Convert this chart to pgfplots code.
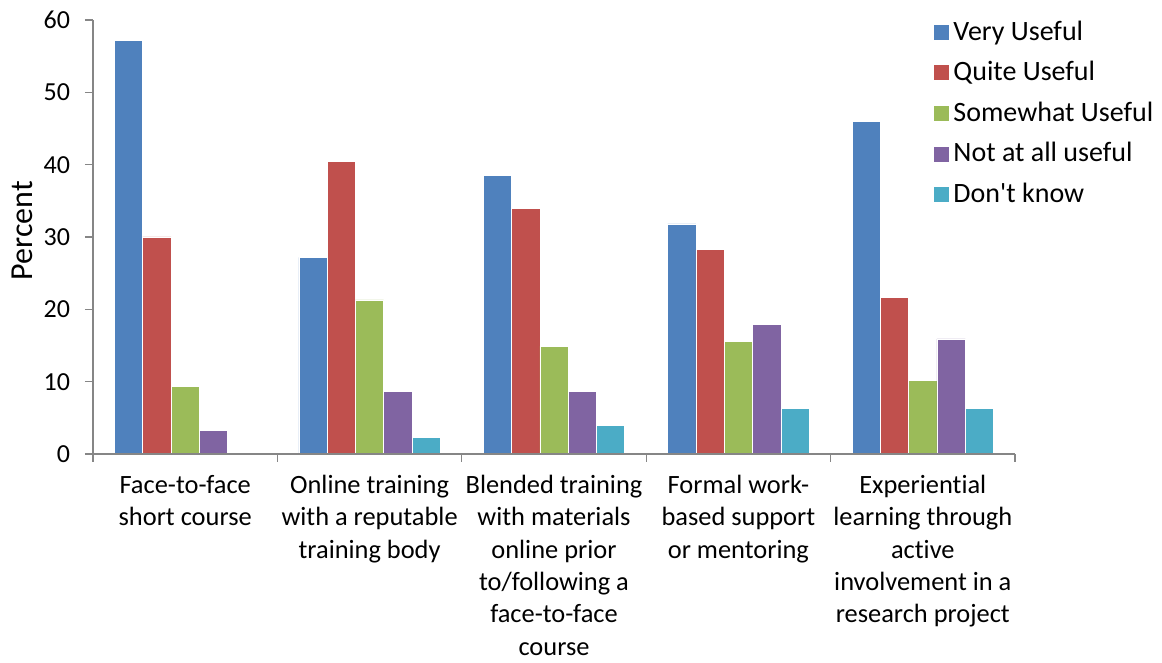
\documentclass[border=0pt]{standalone}
\usepackage{pgfplots}
\pgfplotsset{compat=1.18}
\usepackage{fontspec}
\setmainfont{Carlito}[Ligatures={TeX,NoCommon}]

\definecolor{cVery}{RGB}{79,129,189}
\definecolor{cQuite}{RGB}{192,80,77}
\definecolor{cSome}{RGB}{155,187,89}
\definecolor{cNot}{RGB}{128,100,162}
\definecolor{cDK}{RGB}{75,172,198}
\definecolor{axisgray}{RGB}{134,134,134}

\begin{document}
\fontsize{13}{16.3}\selectfont
\begin{tikzpicture}
\begin{axis}[
  scale only axis,
  width=461pt, height=217pt,
  axis on top,
  ybar=0pt,
  bar width=14.15pt,
  xmin=-0.5, xmax=4.5,
  ymin=0, ymax=60,
  ytick={0,10,...,60},
  xtick={-0.5,0.5,...,4.5},
  xticklabels={},
  extra x ticks={0,1,2,3,4},
  extra x tick labels={
    Face-to-face\\short course,
    Online training\\with a reputable\\training body,
    Blended training\\with materials\\online prior\\to/following a\\face-to-face\\course,
    Formal work-\\based support\\or mentoring,
    Experiential\\learning through\\active\\involvement in a\\research project},
  extra x tick style={major tick length=0pt},
  x tick label style={align=center, anchor=north, yshift=-6pt,
    font=\fontsize{13.2}{16.2}\selectfont},
  y tick label style={font=\fontsize{13}{16.3}\selectfont, xshift=-3pt},
  /pgf/number format/assume math mode=true,
  tick align=outside,
  major tick length=4pt,
  axis x line*=bottom,
  axis y line*=left,
  axis line style={axisgray, line width=0.6pt},
  every tick/.style={axisgray, line width=0.6pt},
  ylabel={Percent},
  ylabel style={font=\fontsize{16}{18}\selectfont,
    at={(axis description cs:-0.077,0.514)}, anchor=center, rotate=0},
  legend style={at={(0.904,1.018)}, anchor=north west, draw=none, fill=none,
    font=\fontsize{14}{16}\selectfont, row sep=4.6pt,
    /tikz/every even column/.append style={column sep=0pt}},
  legend cell align=left,
  legend image code/.code={\fill[#1] (0pt,-4pt) rectangle (8pt,4pt);},
  every axis plot/.append style={draw=white, line width=0.3pt},
]
\addplot[fill=cVery] coordinates {(0,57.2) (1,27.2) (2,38.5) (3,31.8) (4,46.0)};
\addplot[fill=cQuite] coordinates {(0,30.0) (1,40.4) (2,33.9) (3,28.3) (4,21.6)};
\addplot[fill=cSome] coordinates {(0,9.4) (1,21.3) (2,14.9) (3,15.6) (4,10.2)};
\addplot[fill=cNot] coordinates {(0,3.3) (1,8.7) (2,8.6) (3,17.9) (4,15.9)};
\addplot[fill=cDK] coordinates {(0,0) (1,2.3) (2,4.0) (3,6.3) (4,6.25)};
\legend{Very Useful, Quite Useful, Somewhat Useful, Not at all useful, Don\textquotesingle t know}
\end{axis}
% fixed page frame around the axis
\pgfresetboundingbox
\path ([shift={(-46.5pt,-104.5pt)}]current axis.south west)
  rectangle ([shift={(73.5pt,10pt)}]current axis.north east);
\end{tikzpicture}
\end{document}
